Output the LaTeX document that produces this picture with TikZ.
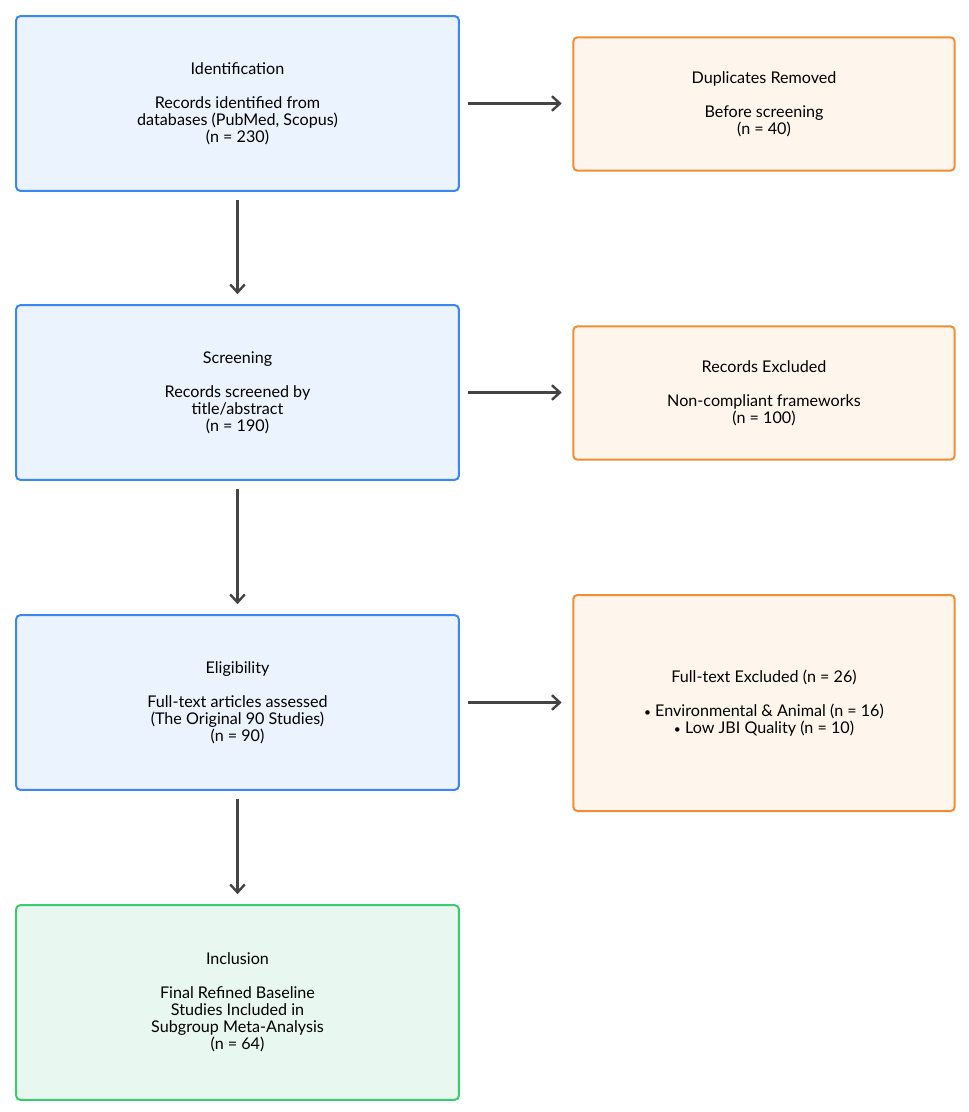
\documentclass[tikz,border=0pt]{standalone}
\usepackage{fontspec}
\setmainfont{Lato}
\usepackage{tikz}
\usetikzlibrary{arrows.meta}

\definecolor{stageblue}{HTML}{3B86F2}
\definecolor{stagebluefill}{HTML}{EBF3FE}
\definecolor{excludeorange}{HTML}{EF8E35}
\definecolor{excludefill}{HTML}{FEF6EC}
\definecolor{includegreen}{HTML}{3DCB71}
\definecolor{includefill}{HTML}{E8F7EF}
\definecolor{arrowgray}{HTML}{444444}

\begin{document}
\begin{tikzpicture}[
    x=0.75pt, y=-0.75pt,
    font=\fontsize{12.1}{12.75}\selectfont,
    graybox/.style = {rounded corners=3pt, line width=1.5pt, align=center, inner sep=0pt},
    line/.style = {-{Straight Barb[length=6pt,width=11pt,line width=1.8pt]}, draw=arrowgray, line width=2.2pt},
    hline/.style = {line, shorten <=6pt, shorten >=8pt},
    vline/.style = {line, shorten <=6pt, shorten >=7.5pt}
    ]
    \tikzstyle{node_stage} = [graybox, draw=stageblue, fill=stagebluefill, minimum width=332pt, minimum height=131pt]
    \tikzstyle{node_excluded} = [graybox, draw=excludeorange, fill=excludefill, minimum width=286pt, minimum height=100pt]
    \tikzstyle{node_included} = [graybox, draw=includegreen, fill=includefill, minimum width=332pt, minimum height=146pt]
    \useasboundingbox (0,0) rectangle (968,1112);

    \node[node_stage] (ident) at (237.5,103.5) {Identification\\[12.75pt]Records identified from\\databases (PubMed, Scopus)\\(n = 230)};
    \node[node_excluded] (dup) at (764,104) {Duplicates Removed\\[12.75pt]Before screening\\(n = 40)};
    \node[node_stage] (screen) at (237.5,392.5) {Screening\\[12.75pt]Records screened by\\title/abstract\\(n = 190)};
    \node[node_excluded] (recexcl) at (764,393) {Records Excluded\\[12.75pt]Non-compliant frameworks\\(n = 100)};
    \node[node_stage] (elig) at (237.5,702.5) {Eligibility\\[12.75pt]Full-text articles assessed\\(The Original 90 Studies)\\(n = 90)};
    \node[node_excluded, minimum height=162pt] (ftexcl) at (764,703) {Full-text Excluded (n = 26)\\[12.75pt]{\small•} Environmental \& Animal (n = 16)\\{\small•} Low JBI Quality (n = 10)};
    \node[node_included] (incl) at (237.5,1002.5) {Inclusion\\[12.75pt]Final Refined Baseline\\Studies Included in\\Subgroup Meta-Analysis\\(n = 64)};

    \draw[hline] (ident.east) -- (ident.east -| dup.west);
    \draw[hline] (screen.east) -- (screen.east -| recexcl.west);
    \draw[hline] (elig.east) -- (elig.east -| ftexcl.west);
    \draw[vline] (ident) -- (screen);
    \draw[vline] (screen) -- (elig);
    \draw[vline] (elig) -- (incl);
\end{tikzpicture}
\end{document}
